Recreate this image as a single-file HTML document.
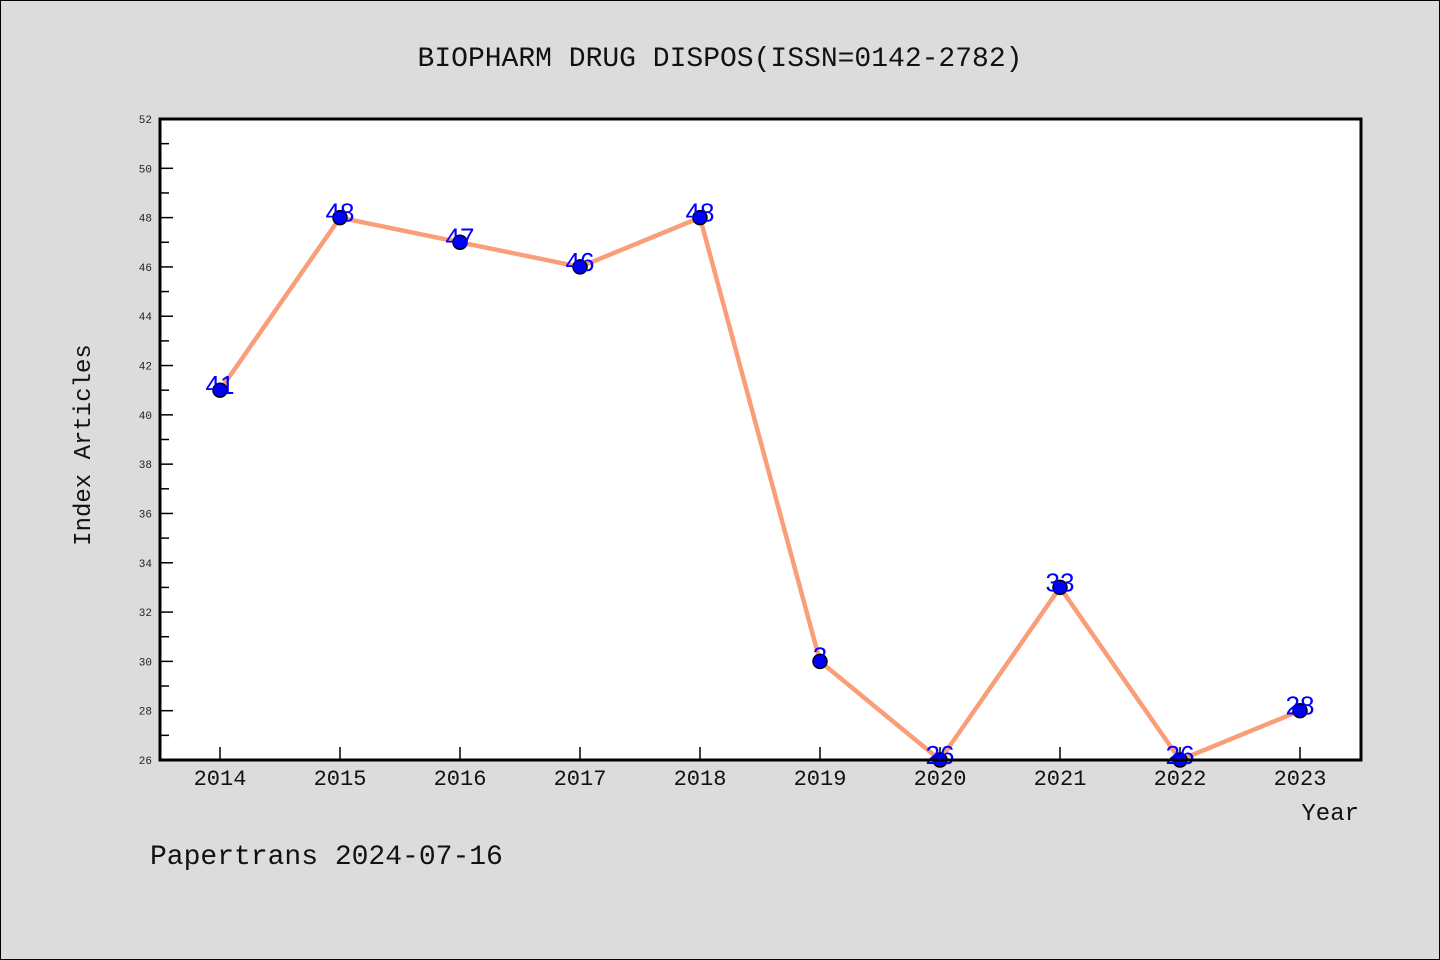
<!DOCTYPE html>
<html><head><meta charset="utf-8"><style>
body{margin:0;background:#dcdcdc;}
svg{display:block;font-family:"WenQuanYi Zen Hei","Liberation Mono",monospace;}
</style></head><body>
<svg id="c" width="1440" height="960">
<rect x="0.5" y="0.5" width="1439" height="959" fill="#dcdcdc" stroke="#000"/>
<text x="720" y="66" font-size="28" text-anchor="middle" fill="#111">BIOPHARM DRUG DISPOS(ISSN=0142-2782)</text>
<rect x="160" y="119" width="1201" height="641" fill="#fff"/>
<g id="ticks"></g>
<g id="marks"></g>
<rect x="160" y="119" width="1201" height="641" fill="none" stroke="#000" stroke-width="3"/>
<text x="90" y="445" font-size="24" text-anchor="middle" fill="#111" transform="rotate(-90 90 445)">Index Articles</text>
<text x="1359" y="820" font-size="24" text-anchor="end" fill="#111">Year</text>
<text x="150" y="864" font-size="28" fill="#111">Papertrans 2024-07-16</text>
</svg>
<script>
const years=["2014","2015","2016","2017","2018","2019","2020","2021","2022","2023"];
const values=[41,48,47,46,48,30,26,33,26,28];
const pointLabels=["41","48","47","46","48","3","26","33","26","28"];
const yTicks=[26,28,30,32,34,36,38,40,42,44,46,48,50,52];
const NS="http://www.w3.org/2000/svg";
const x0=160,x1=1361,y0=760,y1=119,ymin=26,ymax=52;
const xs=i=>220+i*120;
const ys=v=>y0-(v-ymin)/(ymax-ymin)*(y0-y1);
function mk(t,a,p){const e=document.createElementNS(NS,t);for(const k in a)e.setAttribute(k,a[k]);p.appendChild(e);return e;}
const tg=document.getElementById('ticks'),mg=document.getElementById('marks');
yTicks.forEach((v,i)=>{
 const y=ys(v);
 const l=mk('line',{x1:x0,x2:x0+13,y1:y,y2:y,stroke:'#000','stroke-width':1.5},tg);
 
 
 const t=mk('text',{x:152,y:y+4,'font-size':11,'text-anchor':'end',fill:'#222'},tg);
 t.textContent=v;
 
 
 if(i<yTicks.length-1){const ym=ys(v+1);
  const m=mk('line',{x1:x0,x2:x0+9,y1:ym,y2:ym,stroke:'#000','stroke-width':1.5},tg);
  
  }
});
years.forEach((yr,i)=>{
 const x=xs(i);
 const l=mk('line',{x1:x,x2:x,y1:y0,y2:y0-13,stroke:'#000','stroke-width':1.5},tg);
 
 
 const t=mk('text',{x:x,y:785,'font-size':22,'text-anchor':'middle',fill:'#111'},tg);
 t.textContent=yr;
 
 
});
const pl=mk('polyline',{points:values.map((v,i)=>xs(i)+','+ys(v)).join(' '),fill:'none',stroke:'#fa9e7a','stroke-width':4.5,'stroke-linejoin':'round'},mg);


values.forEach((v,i)=>{
 const c=mk('circle',{cx:xs(i),cy:ys(v),r:7,fill:'#0000ff',stroke:'#000','stroke-width':1.5},mg);
 
 
 const t=mk('text',{x:xs(i),y:ys(v)+4,'font-family':'Liberation Sans, sans-serif','font-size':26,'text-anchor':'middle',fill:'#0000ff'},mg);
 t.textContent=pointLabels[i];
 
 
});
</script>
</body></html>
